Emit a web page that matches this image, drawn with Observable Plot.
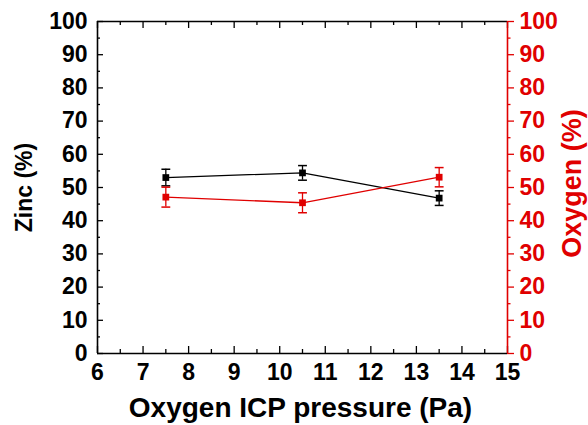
<!DOCTYPE html>
<html>
<head>
<meta charset="utf-8">
<script src="https://cdn.jsdelivr.net/npm/d3@7"></script>
<script src="https://cdn.jsdelivr.net/npm/@observablehq/plot@0.6"></script>
<style>
  html, body { margin: 0; padding: 0; background: #fff; }
  #chart svg { display: block; }
</style>
</head>
<body>
<div id="chart"></div>
<script>
// ---- data ----
const pressure = [7.5, 10.5, 13.5];
const zinc = [53.0, 54.4, 46.8];
const zincErr = [2.5, 2.2, 2.2];
const oxygen = [47.1, 45.4, 53.1];
const oxygenErr = [3.0, 3.0, 2.9];

const xTicks = [6, 7, 8, 9, 10, 11, 12, 13, 14, 15];
const xMinor = [6.5, 7.5, 8.5, 9.5, 10.5, 11.5, 12.5, 13.5, 14.5];
const yTicks = [0, 10, 20, 30, 40, 50, 60, 70, 80, 90, 100];
const yMinor = [5, 15, 25, 35, 45, 55, 65, 75, 85, 95];

const xTitle = "Oxygen ICP pressure (Pa)";
const yLeftTitle = "Zinc (%)";
const yRightTitle = "Oxygen (%)";

const BLACK = "#000000";
const RED = "#e00000";

const zincData = pressure.map((x, i) => ({x, y: zinc[i], lo: zinc[i] - zincErr[i], hi: zinc[i] + zincErr[i]}));
const oxyData = pressure.map((x, i) => ({x, y: oxygen[i], lo: oxygen[i] - oxygenErr[i], hi: oxygen[i] + oxygenErr[i]}));

// ---- layout ----
const W = 588, H = 425;
const mL = 97, mR = 81, mT = 21, mB = 72;
const fw = W - mL - mR, fh = H - mT - mB;

const capSymbol = {
  draw(ctx, size) {
    const w = Math.sqrt(size) / 2;
    ctx.moveTo(-w, 0);
    ctx.lineTo(w, 0);
  }
};

const font = "'Liberation Sans', Arial, sans-serif";
const TICK_FS = 23;

function series(data, color) {
  return [
    Plot.line(data, {x: "x", y: "y", stroke: color, strokeWidth: 1.3}),
    Plot.ruleX(data, {x: "x", y1: "lo", y2: "hi", stroke: color, strokeWidth: 1.3}),
    Plot.dot(data, {x: "x", y: "lo", symbol: capSymbol, r: 5, stroke: color, strokeWidth: 1.5, fill: "none"}),
    Plot.dot(data, {x: "x", y: "hi", symbol: capSymbol, r: 5, stroke: color, strokeWidth: 1.5, fill: "none"}),
    Plot.dot(data, {x: "x", y: "y", symbol: "square", r: 3.8, fill: color, stroke: "none"})
  ];
}

const chart = Plot.plot({
  width: W,
  height: H,
  marginLeft: mL,
  marginRight: mR,
  marginTop: mT,
  marginBottom: mB,
  style: {fontFamily: font, background: "#fff", overflow: "visible"},
  x: {domain: [6, 15], axis: null},
  y: {domain: [0, 100], axis: null},
  marks: [
    // tick labels
    Plot.text(xTicks, {x: d => d, text: d => String(d), frameAnchor: "bottom", lineAnchor: "top", dy: 10, fontSize: TICK_FS, fontWeight: "bold", fill: BLACK}),
    Plot.text(yTicks, {y: d => d, text: d => String(d), frameAnchor: "left", textAnchor: "end", dx: -10, fontSize: TICK_FS, fontWeight: "bold", fill: BLACK}),
    Plot.text(yTicks, {y: d => d, text: d => String(d), frameAnchor: "right", textAnchor: "start", dx: 12, fontSize: TICK_FS, fontWeight: "bold", fill: RED}),
    // inward ticks: bottom
    Plot.tickX(xTicks, {x: d => d, insetTop: fh - 7, stroke: BLACK, strokeWidth: 1.3}),
    Plot.tickX(xMinor, {x: d => d, insetTop: fh - 4, stroke: BLACK, strokeWidth: 1.3}),
    // inward ticks: top
    Plot.tickX(xTicks, {x: d => d, insetBottom: fh - 7, stroke: BLACK, strokeWidth: 1.3}),
    Plot.tickX(xMinor, {x: d => d, insetBottom: fh - 4, stroke: BLACK, strokeWidth: 1.3}),
    // inward ticks: left
    Plot.tickY(yTicks, {y: d => d, insetRight: fw - 6, stroke: BLACK, strokeWidth: 1.3}),
    Plot.tickY(yMinor, {y: d => d, insetRight: fw - 3, stroke: BLACK, strokeWidth: 1.3}),
    // outward ticks: right (red)
    Plot.tickY(yTicks, {y: d => d, insetLeft: fw, insetRight: -7, stroke: RED, strokeWidth: 1.3}),
    Plot.tickY(yMinor, {y: d => d, insetLeft: fw, insetRight: -3.5, stroke: RED, strokeWidth: 1.3}),
    // frame
    Plot.ruleY([0], {stroke: BLACK, strokeWidth: 1.6}),
    Plot.ruleY([100], {stroke: BLACK, strokeWidth: 1.6}),
    Plot.ruleX([6], {stroke: BLACK, strokeWidth: 1.6}),
    Plot.ruleX([15], {stroke: RED, strokeWidth: 1.6}),
    // data
    ...series(zincData, BLACK),
    ...series(oxyData, RED),
    // titles
    Plot.text([xTitle], {frameAnchor: "bottom", textAnchor: "middle", dy: 55, dx: -2, fontSize: 28, fontWeight: "bold", fill: BLACK, lineAnchor: "middle"}),
    Plot.text([yLeftTitle], {frameAnchor: "left", textAnchor: "middle", dx: -73, rotate: -90, fontSize: 23, fontWeight: "bold", fill: BLACK, lineAnchor: "middle"}),
    Plot.text([yRightTitle], {frameAnchor: "right", textAnchor: "middle", dx: 65, dy: -4, rotate: -90, fontSize: 27, fontWeight: "bold", fill: RED, lineAnchor: "middle"})
  ]
});

document.getElementById("chart").appendChild(chart);
</script>
</body>
</html>
